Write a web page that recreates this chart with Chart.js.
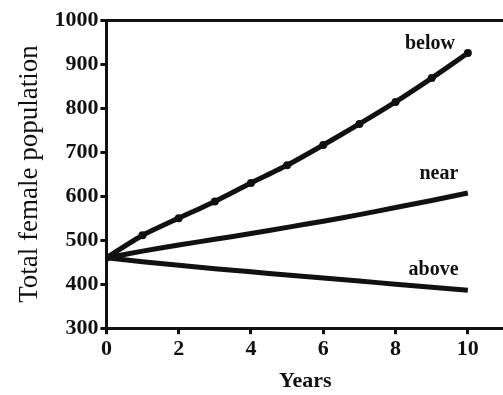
<!DOCTYPE html>
<html>
<head>
<meta charset="utf-8">
<script src="https://cdn.jsdelivr.net/npm/chart.js@4/dist/chart.umd.min.js"></script>
<style>
  html, body { margin: 0; padding: 0; background: #fff; overflow: hidden; }
  #wrap { width: 513px; height: 395px; }
</style>
</head>
<body>
<div id="wrap"><canvas id="c"></canvas></div>
<script>
const years = [0, 1, 2, 3, 4, 5, 6, 7, 8, 9, 10];
const below = [460, 511, 550, 588, 630, 670, 716, 764, 814, 868, 925];
const near = [460, 475, 489, 502, 515, 529, 543, 558, 574, 590, 607];
const above = [460, 451, 443, 435, 428, 421, 414, 407, 400, 393, 386];
const seriesNames = ["below", "near", "above"];
const labelAt = [[8.95, 946], [9.2, 651], [9.05, 433]];

const serif = "'Liberation Serif', 'DejaVu Serif', serif";

const toPts = arr => arr.map((v, i) => ({ x: years[i], y: v }));

const lineLabels = {
  id: "lineLabels",
  afterDatasetsDraw(chart) {
    const { ctx, scales } = chart;
    ctx.save();
    ctx.fillStyle = "#111";
    ctx.font = "bold 20px " + serif;
    ctx.textAlign = "center";
    ctx.textBaseline = "middle";
    seriesNames.forEach((name, i) => {
      const [x, y] = labelAt[i];
      ctx.fillText(name, scales.x.getPixelForValue(x), scales.y.getPixelForValue(y));
    });
    ctx.restore();
  }
};

const ds = (data, pr) => ({
  data: toPts(data),
  borderColor: "#111",
  backgroundColor: "#111",
  borderWidth: 5,
  pointRadius: pr,
  tension: 0.2
});

new Chart(document.getElementById("c"), {
  type: "line",
  data: {
    datasets: [ds(below, 1.5), ds(near, 0), ds(above, 0)]
  },
  options: {
    responsive: true,
    maintainAspectRatio: false,
    animation: false,
    layout: { padding: { top: 20, right: 0, left: 14, bottom: 0 } },
    plugins: { legend: { display: false }, tooltip: { enabled: false } },
    scales: {
      x: {
        type: "linear",
        min: 0,
        max: 11,
        afterBuildTicks: s => { s.ticks = s.ticks.filter(t => t.value % 2 === 0 && t.value <= 10); },
        ticks: { stepSize: 1, color: "#111", font: { family: serif, size: 22, weight: "bold" }, padding: 2, maxRotation: 0 },
        grid: { drawOnChartArea: false, tickLength: 6, tickColor: "#111", tickWidth: 3 },
        border: { color: "#111", width: 3 },
        title: { display: true, text: "Years", color: "#111", font: { family: serif, size: 22, weight: "bold" }, padding: { top: 4, bottom: 0 } }
      },
      y: {
        min: 300,
        max: 1000,
        ticks: { stepSize: 100, color: "#111", font: { family: serif, size: 22, weight: "bold" }, padding: 2, callback: v => String(v) },
        grid: {
          drawOnChartArea: true,
          color: c => (c.tick && c.tick.value === 1000 ? "#111" : "rgba(0,0,0,0)"),
          lineWidth: 3,
          tickLength: 6,
          tickColor: "#111",
          tickWidth: 3
        },
        border: { color: "#111", width: 3 },
        title: { display: true, text: "Total female population", color: "#111", font: { family: serif, size: 27 }, padding: { top: 0, bottom: 6 } }
      }
    }
  },
  plugins: [lineLabels]
});
</script>
</body>
</html>
